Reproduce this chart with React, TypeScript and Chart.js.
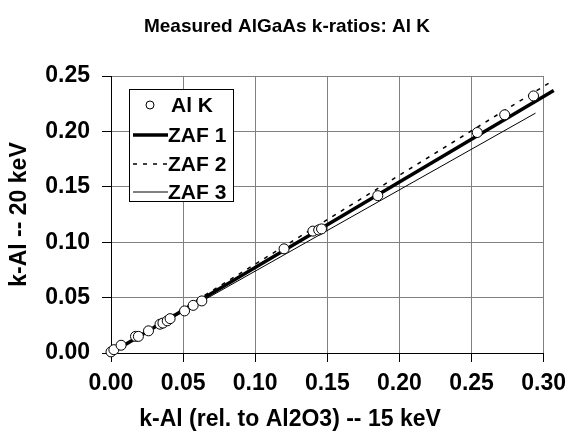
import React, { useEffect, useRef } from "react";
import { Chart, registerables } from "chart.js";

Chart.register(...registerables);

const titleText = "Measured AlGaAs k-ratios: Al K";
const xTitle = "k-Al (rel. to Al2O3) -- 15 keV";
const yTitle = "k-Al -- 20 keV";

const alKX = [0.000, 0.002, 0.007, 0.017, 0.019, 0.026, 0.034, 0.036, 0.039, 0.041, 0.051, 0.057, 0.063, 0.120, 0.140, 0.144, 0.146, 0.185, 0.254, 0.273, 0.293];
const alKY = [0.001, 0.003, 0.007, 0.015, 0.015, 0.020, 0.026, 0.027, 0.029, 0.031, 0.038, 0.043, 0.047, 0.094, 0.110, 0.111, 0.112, 0.142, 0.199, 0.215, 0.232];

const zaf1X = [0.0, 0.307];
const zaf1Y = [0.0, 0.237];
const zaf2X = [0.0, 0.3035];
const zaf2Y = [0.0, 0.2435];
const zaf3X = [0.0, 0.2944];
const zaf3Y = [0.0005, 0.2165];

const FONT = "'Liberation Sans', Arial, Helvetica, sans-serif";

const toXY = (xs: number[], ys: number[]) => xs.map((x, i) => ({ x, y: ys[i] }));

const titlesPlugin = {
  id: "pageTitles",
  afterDraw(chart: any) {
    const ctx = chart.ctx;
    const W = chart.width;
    ctx.save();
    ctx.fillStyle = "#000";
    ctx.textAlign = "center";
    ctx.textBaseline = "middle";
    ctx.font = `bold 19px ${FONT}`;
    ctx.fillText(titleText, W / 2, 27);
    ctx.font = `bold 23px ${FONT}`;
    ctx.fillText(xTitle, W / 2 + 3, 420);
    ctx.restore();
  },
};

const legendPlugin = {
  id: "insideLegend",
  afterDraw(chart: any) {
    const ctx = chart.ctx;
    const ca = chart.chartArea;
    const left = Math.round(ca.left + 18);
    const top = Math.round(ca.top + 13);
    const w = 104;
    const h = 112;
    ctx.save();
    ctx.fillStyle = "#fff";
    ctx.fillRect(left, top, w, h);
    ctx.strokeStyle = "#000";
    ctx.lineWidth = 1;
    ctx.strokeRect(left + 0.5, top + 0.5, w, h);
    ctx.font = `bold 21px ${FONT}`;
    ctx.textBaseline = "middle";
    ctx.fillStyle = "#000";
    const ds = chart.data.datasets;
    const rowY = [17, 47, 76, 104];
    ds.forEach((d: any, i: number) => {
      const y = top + rowY[i];
      if (i === 0) {
        ctx.beginPath();
        ctx.arc(left + 21, y - 1, 4, 0, Math.PI * 2);
        ctx.fillStyle = "#fff";
        ctx.fill();
        ctx.strokeStyle = "#000";
        ctx.lineWidth = 1;
        ctx.stroke();
        ctx.fillStyle = "#000";
        ctx.fillText(d.label, left + 42, y);
      } else {
        ctx.beginPath();
        ctx.setLineDash(d.borderDash || []);
        ctx.lineWidth = d.borderWidth;
        ctx.strokeStyle = "#000";
        ctx.moveTo(left + 4, y - 1);
        ctx.lineTo(left + 39, y - 1);
        ctx.stroke();
        ctx.setLineDash([]);
        ctx.fillStyle = "#000";
        ctx.fillText(d.label, left + 39, y);
      }
    });
    ctx.restore();
  },
};

export default function App() {
  const ref = useRef<HTMLCanvasElement | null>(null);
  useEffect(() => {
    if (!ref.current) return;
    Chart.defaults.color = "#000";
    Chart.defaults.font.family = FONT;
    const chart = new Chart(ref.current, {
      type: "scatter",
      data: {
        datasets: [
          {
            label: "Al K",
            data: toXY(alKX, alKY),
            showLine: false,
            pointRadius: 5,
            pointBackgroundColor: "#fff",
            pointBorderColor: "#000",
            pointBorderWidth: 1,
            clip: false,
          },
          {
            label: "ZAF 1",
            data: toXY(zaf1X, zaf1Y),
            showLine: true,
            pointRadius: 0,
            borderColor: "#000",
            borderWidth: 3.5,
            clip: false,
          },
          {
            label: "ZAF 2",
            data: toXY(zaf2X, zaf2Y),
            showLine: true,
            pointRadius: 0,
            borderColor: "#000",
            borderWidth: 1.5,
            borderDash: [4, 6],
            clip: false,
          },
          {
            label: "ZAF 3",
            data: toXY(zaf3X, zaf3Y),
            showLine: true,
            pointRadius: 0,
            borderColor: "#000",
            borderWidth: 1,
            clip: false,
          },
        ],
      } as any,
      options: {
        animation: false,
        responsive: false,
        layout: { padding: { left: 0, right: 27, top: 76, bottom: 0 } },
        plugins: {
          legend: { display: false },
          tooltip: { enabled: false },
          title: { display: false },
        },
        scales: {
          x: {
            type: "linear",
            min: 0,
            max: 0.3,
            afterFit: (s: any) => { s.height = 89; },
            ticks: {
              stepSize: 0.05,
              padding: 8,
              maxRotation: 0,
              font: { size: 23, weight: "bold", family: FONT },
              callback: (v: any) => Number(v).toFixed(2),
            },
            grid: { color: "#808080", tickColor: "#000", tickLength: 9, lineWidth: 1 },
            border: { color: "#000", width: 1 },
            title: { display: false },
          },
          y: {
            type: "linear",
            min: 0,
            max: 0.25,
            afterFit: (s: any) => { s.width = 111; },
            ticks: {
              stepSize: 0.05,
              padding: 12,
              font: { size: 23, weight: "bold", family: FONT },
              callback: (v: any) => Number(v).toFixed(2),
            },
            grid: { color: "#808080", tickColor: "#000", tickLength: 9, lineWidth: 1 },
            border: { color: "#000", width: 1 },
            title: {
              display: true,
              text: yTitle,
              font: { size: 23, weight: "bold", family: FONT },
              padding: { top: 6, bottom: 0 },
            },
          },
        },
      } as any,
      plugins: [legendPlugin, titlesPlugin],
    });
    return () => chart.destroy();
  }, []);
  return (
    <div style={{ position: "fixed", left: 0, top: 0, width: 574, height: 442, background: "#fff" }}>
      <canvas ref={ref} width={574} height={442} style={{ display: "block" }} />
    </div>
  );
}
